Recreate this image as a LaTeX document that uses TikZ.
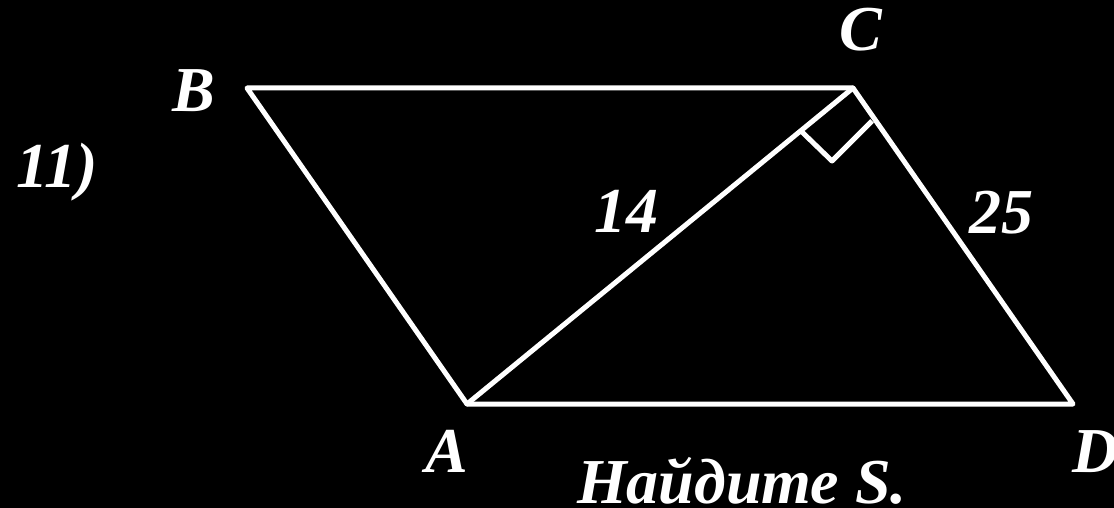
\documentclass[tikz,border=0pt]{standalone}
\usepackage{fontspec}
\setmainfont{Liberation Serif}
\begin{document}
\begin{tikzpicture}[x=1pt,y=-1pt,
  edge/.style={draw=white,line width=5pt,line join=round,line cap=round},
  lbl/.style={text=white,font=\fontsize{64}{64}\selectfont\bfseries\itshape,anchor=base,inner sep=0pt}]
\fill[black] (0,0) rectangle (1114,508);
\useasboundingbox (0,0) rectangle (1114,508);
\coordinate (B) at (247,88);
\coordinate (C) at (853,88);
\coordinate (A) at (467,404);
\coordinate (D) at (1073,404);
\coordinate (m1) at (802,132);
\coordinate (m2) at (832,161);
\coordinate (m3) at (872,121);
\draw[edge] (A) -- (B) -- (C) -- (D) -- cycle;
\draw[edge] (A) -- (C);
\draw[edge,line cap=butt] (m1) -- (m2) -- (m3);
\node[lbl] (lB) at (194,112) {B};
\node[lbl] (lC) at (861,51) {C};
\node[lbl] (lA) at (447,472) {A};
\node[lbl] (lD) at (1096,472) {D};
\node[lbl] (l14) at (626,232) {14};
\node[lbl] (l25) at (1001,233) {25};
\node[lbl] (l11) at (57,187) {11)};
\node[lbl] (task) at (742,503) {Найдите S.};
\end{tikzpicture}
\end{document}
